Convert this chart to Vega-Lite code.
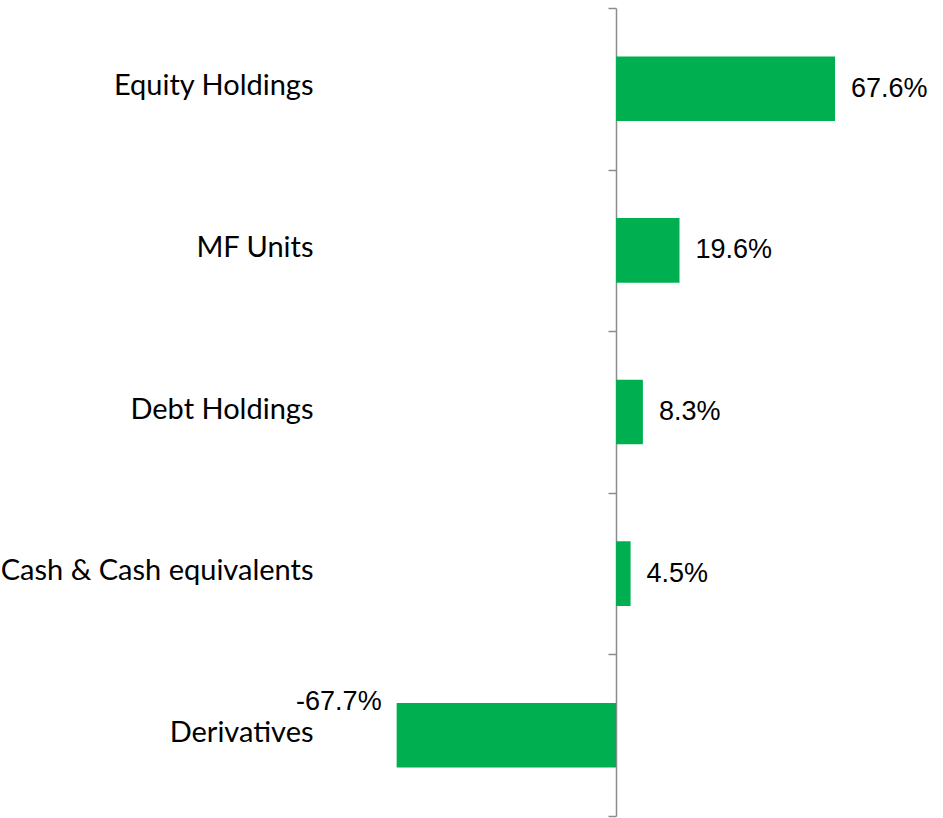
{
  "$schema": "https://vega.github.io/schema/vega-lite/v6.json",
  "autosize": "none",
  "width": 620,
  "height": 808,
  "padding": {"left": 320, "top": 8, "right": 3, "bottom": 2},
  "background": "white",
  "config": {"view": {"stroke": null}},
  "data": {
    "values": [
      {"category": "Equity Holdings", "value": 67.6, "label": "67.6%"},
      {"category": "MF Units", "value": 19.6, "label": "19.6%"},
      {"category": "Debt Holdings", "value": 8.3, "label": "8.3%"},
      {"category": "Cash & Cash equivalents", "value": 4.5, "label": "4.5%"},
      {"category": "Derivatives", "value": -67.7, "label": "-67.7%"}
    ]
  },
  "encoding": {
    "y": {
      "field": "category",
      "type": "nominal",
      "sort": null,
      "scale": {"paddingInner": 0, "paddingOuter": 0},
      "axis": {
        "title": null,
        "offset": -296,
        "tickBand": "extent",
        "tickSize": 8,
        "tickColor": "#8c8c8c",
        "tickWidth": 1.5,
        "domainColor": "#8c8c8c",
        "domainWidth": 1.5,
        "labelPadding": 295,
        "labelFont": "Lato, sans-serif",
        "labelFontSize": 29,
        "labelOffset": -3,
        "labelColor": "#000000",
        "labelLimit": 400
      }
    },
    "x": {
      "field": "value",
      "type": "quantitative",
      "scale": {"domain": [-91.36, 100], "nice": false, "zero": false},
      "axis": null
    }
  },
  "layer": [
    {"mark": {"type": "bar", "color": "#00b050", "height": {"band": 0.4}}},
    {
      "transform": [{"filter": "datum.value >= 0"}],
      "mark": {"type": "text", "align": "left", "baseline": "middle", "dx": 16, "font": "Liberation Sans, Arial, sans-serif", "fontSize": 27, "color": "#000000"},
      "encoding": {"text": {"field": "label"}}
    },
    {
      "transform": [{"filter": "datum.value < 0"}],
      "mark": {"type": "text", "align": "right", "baseline": "middle", "dx": -15, "dy": -33, "font": "Liberation Sans, Arial, sans-serif", "fontSize": 27, "color": "#000000"},
      "encoding": {"text": {"field": "label"}}
    }
  ]
}
